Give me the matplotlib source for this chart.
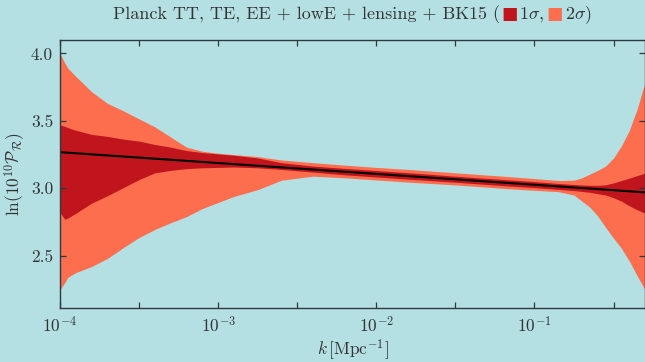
import numpy as np
import matplotlib
matplotlib.use("Agg")
import matplotlib.pyplot as plt
from matplotlib.ticker import FixedLocator, NullFormatter, FormatStrFormatter
from matplotlib.offsetbox import TextArea, HPacker, AnnotationBbox

plt.rcParams['font.family'] = 'serif'
plt.rcParams['font.serif'] = ['cmr10']
plt.rcParams['mathtext.fontset'] = 'cm'
plt.rcParams['axes.formatter.use_mathtext'] = True

# ---- data (log10 of k in Mpc^-1) ----
log10_k = [-4.0, -3.97, -3.95, -3.9, -3.8, -3.7, -3.6, -3.5, -3.4, -3.3, -3.2,
           -3.1, -3.0, -2.9, -2.75, -2.6, -2.4, -2.2, -2.0, -1.8, -1.5, -1.2,
           -1.0, -0.85, -0.75, -0.7, -0.65, -0.6, -0.55, -0.5, -0.45, -0.4,
           -0.35, -0.3]
upper_2sig = [4.00, 3.93, 3.89, 3.83, 3.716, 3.63, 3.575, 3.515, 3.455, 3.38, 3.305,
              3.275, 3.26, 3.25, 3.235, 3.21, 3.19, 3.172, 3.155, 3.14, 3.115, 3.09,
              3.072, 3.058, 3.06, 3.078, 3.105, 3.133, 3.165, 3.225, 3.315, 3.43,
              3.59, 3.79]
lower_2sig = [2.25, 2.30, 2.34, 2.375, 2.42, 2.48, 2.56, 2.635, 2.695, 2.745, 2.79,
              2.85, 2.895, 2.94, 2.99, 3.06, 3.09, 3.078, 3.062, 3.046, 3.025, 3.00,
              2.985, 2.975, 2.95, 2.905, 2.86, 2.795, 2.71, 2.63, 2.555, 2.46,
              2.35, 2.245]
upper_1sig = [3.47, 3.46, 3.45, 3.43, 3.40, 3.385, 3.365, 3.35, 3.325, 3.305, 3.28,
              3.265, 3.255, 3.245, 3.225, 3.19, 3.165, 3.148, 3.132, 3.116, 3.09, 3.066,
              3.05, 3.036, 3.028, 3.025, 3.022, 3.022, 3.026, 3.04, 3.058, 3.075,
              3.095, 3.112]
lower_1sig = [2.82, 2.77, 2.78, 2.815, 2.89, 2.945, 3.005, 3.065, 3.115, 3.133, 3.146,
              3.152, 3.155, 3.158, 3.152, 3.14, 3.12, 3.10, 3.084, 3.068, 3.045, 3.02,
              3.005, 2.992, 2.983, 2.977, 2.97, 2.96, 2.95, 2.93, 2.905, 2.87,
              2.84, 2.815]
bestfit_k = [1e-4, 0.5]
bestfit_lnP = [3.268, 2.970]

xticks_major = [1e-4, 1e-3, 1e-2, 1e-1]
xticks_minor = [10**-3.5, 10**-2.5, 10**-1.5, 10**-0.5]
yticks = [2.5, 3.0, 3.5, 4.0]

bg = '#b4e0e4'
c1 = '#c1151d'
c2 = '#fc6e4d'
dark = '#2e3a3e'

k = 10 ** np.array(log10_k)

fig = plt.figure(figsize=(6.45, 3.62), dpi=100, facecolor=bg)
ax = fig.add_axes([60 / 645, 1 - 308.3 / 362, 585 / 645, 268.3 / 362])
ax.set_facecolor(bg)

ax.fill_between(k, lower_2sig, upper_2sig, color=c2, lw=0)
ax.fill_between(k, lower_1sig, upper_1sig, color=c1, lw=0)
ax.plot(bestfit_k, bestfit_lnP, color='black', lw=1.5)

ax.set_xscale('log')
ax.set_xlim(1e-4, 0.5)
ax.set_ylim(2.11, 4.1)
ax.xaxis.set_major_locator(FixedLocator(xticks_major))
ax.xaxis.set_minor_locator(FixedLocator(xticks_minor))
ax.xaxis.set_minor_formatter(NullFormatter())
ax.yaxis.set_major_locator(FixedLocator(yticks))
ax.yaxis.set_major_formatter(FormatStrFormatter('%.1f'))
ax.yaxis.set_minor_locator(FixedLocator([]))
ax.tick_params(which='both', direction='in', top=True, right=True,
               length=4, width=0.9, color=dark, labelcolor='#333333',
               labelsize=12.5, pad=5)
for s in ax.spines.values():
    s.set_color(dark)
    s.set_linewidth(1.0)

ax.set_xlabel(r'$k\,[\mathrm{Mpc}^{-1}]$', fontsize=12.5, color='#333333')
ax.set_ylabel(r'$\ln(10^{10}\mathcal{P}_\mathcal{R})$', fontsize=12.5, color='#333333')
ax.xaxis.set_label_coords(0.5, -0.108)
ax.yaxis.set_label_coords(-0.056, 0.5)

# title with coloured squares
tp = dict(fontsize=13, color='#333333')
sq = dict(fontsize=12.5, family='DejaVu Sans')
parts = [
    TextArea('Planck TT, TE, EE + lowE + lensing + BK15 (', textprops=tp),
    TextArea('\u25A0', textprops=dict(sq, color=c1)),
    TextArea(r'$1\sigma$, ', textprops=tp),
    TextArea('\u25A0', textprops=dict(sq, color=c2)),
    TextArea(r'$2\sigma$)', textprops=tp),
]
box = HPacker(children=parts, align='baseline', pad=0, sep=1)
ab = AnnotationBbox(box, (352 / 645, 1 - 15 / 362), xycoords='figure fraction',
                    frameon=False, box_alignment=(0.5, 0.5))
fig.add_artist(ab)

fig.savefig('out.png', dpi=100, facecolor=bg)
